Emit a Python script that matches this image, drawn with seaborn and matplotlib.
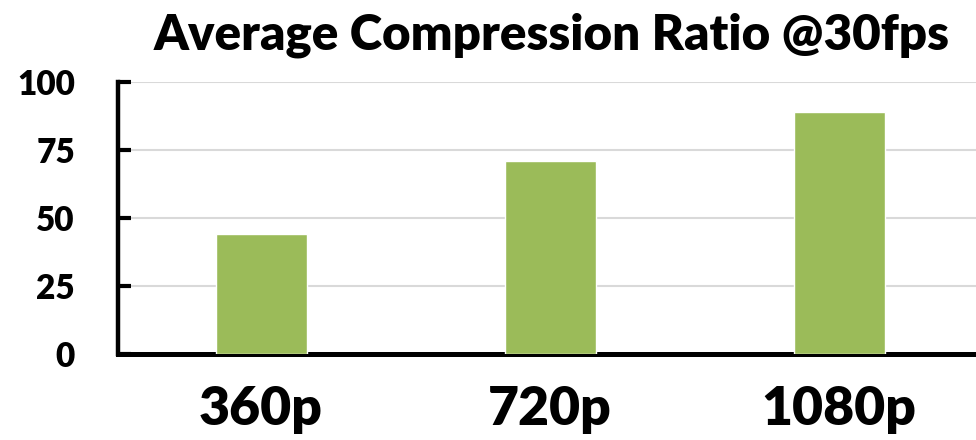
import matplotlib
matplotlib.use("Agg")
import matplotlib.pyplot as plt
import seaborn as sns
import pandas as pd

# Average compression ratio at 30 fps, by video resolution
resolutions = ["360p", "720p", "1080p"]
ratios = [44, 71, 89]
y_ticks = [0, 25, 50, 75, 100]

sns.set_style("white")
plt.rcParams["font.family"] = ["Lato", "DejaVu Sans"]
plt.rcParams["font.weight"] = "heavy"
plt.rcParams["text.color"] = "black"
plt.rcParams["xtick.color"] = "black"
plt.rcParams["ytick.color"] = "black"

df = pd.DataFrame({"resolution": resolutions, "ratio": ratios})

fig = plt.figure(figsize=(9.76, 4.4), dpi=100)
ax = fig.add_axes([118 / 976, 1 - 354 / 440, 1 - 118 / 976, (354 - 82) / 440])

sns.barplot(data=df, x="resolution", y="ratio", color="#9BBB59",
            saturation=1, width=0.315, ax=ax, zorder=3)

ax.set_xlim(-0.495, 2.474)
ax.set_ylim(0, 100)
ax.set_yticks(y_ticks)
ax.set_yticklabels([str(t) for t in y_ticks], fontsize=24, fontweight="heavy",
                   color="black")
ax.set_xticks(range(len(resolutions)))
ax.set_xticklabels(resolutions, fontsize=38.5, fontweight="heavy", color="black")
ax.set_xlabel("")
ax.set_ylabel("")

ax.yaxis.grid(True, color="#D9D9D9", linewidth=1.5, zorder=0)
ax.xaxis.grid(False)
ax.set_axisbelow(True)

for side in ("top", "right"):
    ax.spines[side].set_visible(False)
ax.spines["left"].set_linewidth(3.2)
ax.spines["bottom"].set_linewidth(3.6)
ax.spines["left"].set_color("black")
ax.spines["bottom"].set_color("black")

ax.tick_params(axis="y", direction="in", length=9, width=3, pad=31,
               colors="black", left=True)
ax.tick_params(axis="x", length=0, pad=22, colors="black")

fig.text(552 / 976, 1 - 49 / 440, "Average Compression Ratio @30fps",
         ha="center", va="baseline", fontsize=35.5, fontweight="heavy",
         color="black")

fig.savefig("out.png", dpi=100)
